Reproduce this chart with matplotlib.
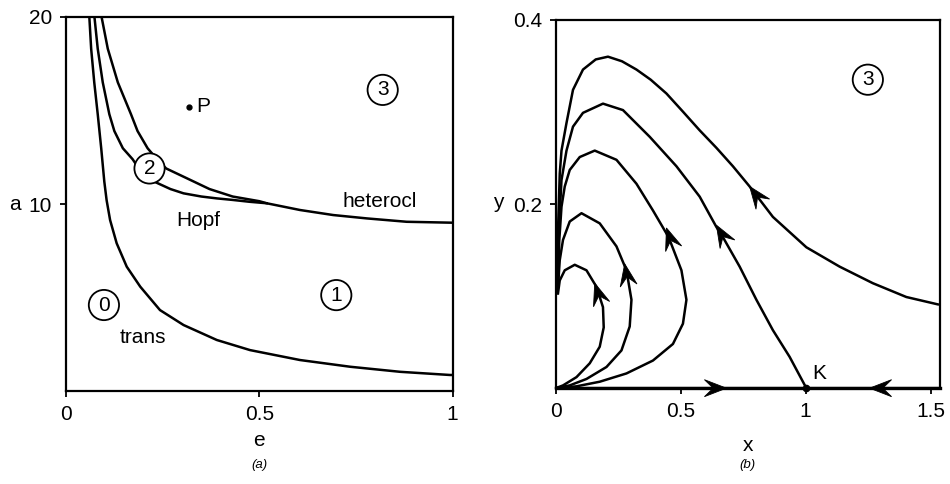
import numpy as np
import matplotlib.pyplot as plt
from matplotlib.patches import Polygon

plt.rcParams['font.family'] = ['Liberation Sans', 'DejaVu Sans']

# ---- panel (a): bifurcation curves in the (e, a) plane ----
trans_e = [0.060, 0.065, 0.073, 0.082, 0.091, 0.099, 0.105, 0.114, 0.131, 0.157, 0.192, 0.243, 0.304,
           0.390, 0.476, 0.605, 0.735, 0.864, 0.993, 1.000]
trans_a = [20.1, 18.3, 16.5, 14.8, 12.98, 11.2, 10.2, 9.14, 7.9, 6.65, 5.58, 4.33, 3.53,
           2.73, 2.19, 1.66, 1.30, 1.03, 0.86, 0.86]

hopf_e = [0.073, 0.082, 0.095, 0.112, 0.125, 0.147, 0.172, 0.200, 0.233, 0.270, 0.304, 0.350, 0.390,
          0.430, 0.474, 0.519]
hopf_a = [20.1, 18.3, 16.5, 14.8, 13.9, 12.98, 12.4, 11.55, 11.15, 10.8, 10.57, 10.4, 10.3,
          10.22, 10.12, 10.04]

hetero_e = [0.091, 0.108, 0.134, 0.168, 0.185, 0.211, 0.235, 0.259, 0.310, 0.371, 0.431, 0.500, 0.519,
            0.605, 0.691, 0.778, 0.881, 1.000]
hetero_a = [20.1, 18.3, 16.5, 14.8, 13.9, 12.98, 12.4, 11.9, 11.4, 10.8, 10.4, 10.15, 10.04,
            9.68, 9.41, 9.23, 9.05, 9.0]

point_p = (0.319, 15.2)

# ---- panel (b): phase portrait trajectories in the (x, y) plane ----
traj_a_x = [1.529, 1.403, 1.269, 1.136, 1.003, 0.869, 0.776, 0.709, 0.643, 0.576, 0.510, 0.443, 0.380,
            0.323, 0.265, 0.209, 0.160, 0.109, 0.069, 0.043, 0.023, 0.016, 0.010, 0.007]
traj_a_y = [0.091, 0.099, 0.114, 0.132, 0.153, 0.186, 0.219, 0.241, 0.261, 0.280, 0.300, 0.320, 0.335,
            0.346, 0.355, 0.360, 0.357, 0.346, 0.324, 0.288, 0.258, 0.233, 0.180, 0.103]

traj_b_x = [1.003, 0.936, 0.869, 0.803, 0.736, 0.669, 0.643, 0.576, 0.483, 0.376, 0.269, 0.189, 0.109,
            0.069, 0.043, 0.023, 0.012, 0.007]
traj_b_y = [0.000, 0.034, 0.063, 0.096, 0.132, 0.164, 0.175, 0.208, 0.241, 0.273, 0.302, 0.309, 0.299,
            0.284, 0.258, 0.226, 0.170, 0.107]

traj_c_x = [0.000, 0.083, 0.176, 0.283, 0.389, 0.469, 0.509, 0.523, 0.503, 0.456, 0.443, 0.389, 0.323,
            0.243, 0.156, 0.096, 0.056, 0.036, 0.023, 0.014, 0.009]
traj_c_y = [0.000, 0.002, 0.007, 0.016, 0.030, 0.048, 0.070, 0.096, 0.128, 0.161, 0.168, 0.193, 0.222,
            0.248, 0.258, 0.251, 0.237, 0.219, 0.197, 0.160, 0.110]

traj_d_x = [0.000, 0.056, 0.123, 0.203, 0.263, 0.296, 0.303, 0.283, 0.243, 0.176, 0.103, 0.056, 0.029,
            0.016, 0.009]
traj_d_y = [0.000, 0.003, 0.010, 0.023, 0.041, 0.067, 0.096, 0.128, 0.154, 0.179, 0.190, 0.181, 0.161,
            0.139, 0.110]

traj_e_x = [0.000, 0.029, 0.083, 0.136, 0.176, 0.192, 0.189, 0.163, 0.123, 0.076, 0.036, 0.016, 0.009]
traj_e_y = [0.000, 0.003, 0.012, 0.027, 0.045, 0.066, 0.088, 0.110, 0.128, 0.134, 0.128, 0.117, 0.103]

point_k = (1.0, 0.0)

# arrowheads: (tip, point behind the tip along the trajectory)
arrows_b = [
    ((0.776, 0.219), (0.820, 0.203)),
    ((0.643, 0.177), (0.690, 0.155)),
    ((0.443, 0.174), (0.480, 0.145)),
    ((0.276, 0.135), (0.296, 0.105)),
    ((0.156, 0.114), (0.185, 0.090)),
    ((0.683, 0.000), (0.600, 0.000)),
    ((1.256, 0.000), (1.340, 0.000)),
]


def arrowhead(ax, tip, tail, length=22, width=8.5, notch=0.6):
    # barbed arrowhead built in pixel space, handed back to data space
    t = ax.transData.transform(tip)
    b = ax.transData.transform(tail)
    d = (t - b) / np.hypot(*(t - b))
    n = np.array([-d[1], d[0]])
    pts = [t, t - length * d + width * n, t - notch * length * d, t - length * d - width * n]
    ax.add_patch(Polygon(ax.transData.inverted().transform(pts), closed=True,
                         fc='k', ec='k', lw=0.6, zorder=4, clip_on=False))


fig = plt.figure(figsize=(9.5, 4.84), dpi=100)
ax1 = fig.add_axes([0.0695, 0.192, 0.407, 0.773])
ax2 = fig.add_axes([0.585, 0.198, 0.404, 0.761])

lw = 1.8
fs = 15
circ = dict(boxstyle='circle,pad=0.27', fc='white', ec='k', lw=1.3)

# panel (a)
ax1.set_xlim(0, 1)
ax1.set_ylim(0, 20)
for xs, ys in [(trans_e, trans_a), (hopf_e, hopf_a), (hetero_e, hetero_a)]:
    ax1.plot(xs, ys, color='k', lw=lw, solid_joinstyle='round')
ax1.plot(*point_p, 'o', color='k', ms=3.5)
ax1.text(point_p[0] + 0.018, point_p[1], 'P', fontsize=fs, va='center', ha='left')

ax1.text(0.819, 16.1, '3', fontsize=fs, ha='center', va='center', bbox=circ)
ax1.text(0.216, 11.9, '2', fontsize=fs, ha='center', va='center', bbox=circ, zorder=5)
ax1.text(0.699, 5.13, '1', fontsize=fs, ha='center', va='center', bbox=circ)
ax1.text(0.098, 4.6, '0', fontsize=fs, ha='center', va='center', bbox=circ)
ax1.text(0.812, 10.15, 'heterocl', fontsize=fs, ha='center', va='center')
ax1.text(0.342, 9.14, 'Hopf', fontsize=fs, ha='center', va='center')
ax1.text(0.200, 2.87, 'trans', fontsize=fs, ha='center', va='center')

ax1.set_xticks([0, 0.5, 1])
ax1.set_xticklabels(['0', '0.5', '1'])
ax1.set_yticks([10, 20])
ax1.set_yticklabels(['10', '20'])
ax1.set_xlabel('e', fontsize=fs, va='center')
ax1.xaxis.set_label_coords(0.5, -0.131)
ax1.set_ylabel('a', fontsize=fs, rotation=0, va='center', ha='center')
ax1.yaxis.set_label_coords(-0.132, 0.5)
ax1.text(0.5, -0.198, '(a)', transform=ax1.transAxes, fontsize=9.5, style='italic', ha='center', va='center')

# panel (b)
ax2.set_xlim(0, 1.536)
ax2.set_ylim(0, 0.4)
for xs, ys in [(traj_a_x, traj_a_y), (traj_b_x, traj_b_y), (traj_c_x, traj_c_y),
               (traj_d_x, traj_d_y), (traj_e_x, traj_e_y)]:
    ax2.plot(xs, ys, color='k', lw=lw, solid_joinstyle='round')
ax2.plot([0, 1.536], [0, 0], color='k', lw=2.4, clip_on=False)
for tip, tail in arrows_b:
    arrowhead(ax2, tip, tail)
ax2.plot(*point_k, 'o', color='k', ms=4.5, clip_on=False, zorder=5)
ax2.text(1.025, 0.006, 'K', fontsize=fs, ha='left', va='bottom')
ax2.text(1.249, 0.335, '3', fontsize=fs, ha='center', va='center', bbox=circ)

ax2.set_xticks([0, 0.5, 1, 1.5])
ax2.set_xticklabels(['0', '0.5', '1', '1.5'])
ax2.set_yticks([0.2, 0.4])
ax2.set_yticklabels(['0.2', '0.4'])
ax2.set_xlabel('x', fontsize=fs, va='center')
ax2.xaxis.set_label_coords(0.5, -0.155)
ax2.set_ylabel('y', fontsize=fs, rotation=0, va='center', ha='center')
ax2.yaxis.set_label_coords(-0.151, 0.505)
ax2.text(0.5, -0.209, '(b)', transform=ax2.transAxes, fontsize=9.5, style='italic', ha='center', va='center')

for ax in (ax1, ax2):
    for sp in ax.spines.values():
        sp.set_linewidth(1.6)
    ax.tick_params(direction='out', length=4, width=1.3, labelsize=fs, pad=6)

fig.savefig('out.png', dpi=100)
